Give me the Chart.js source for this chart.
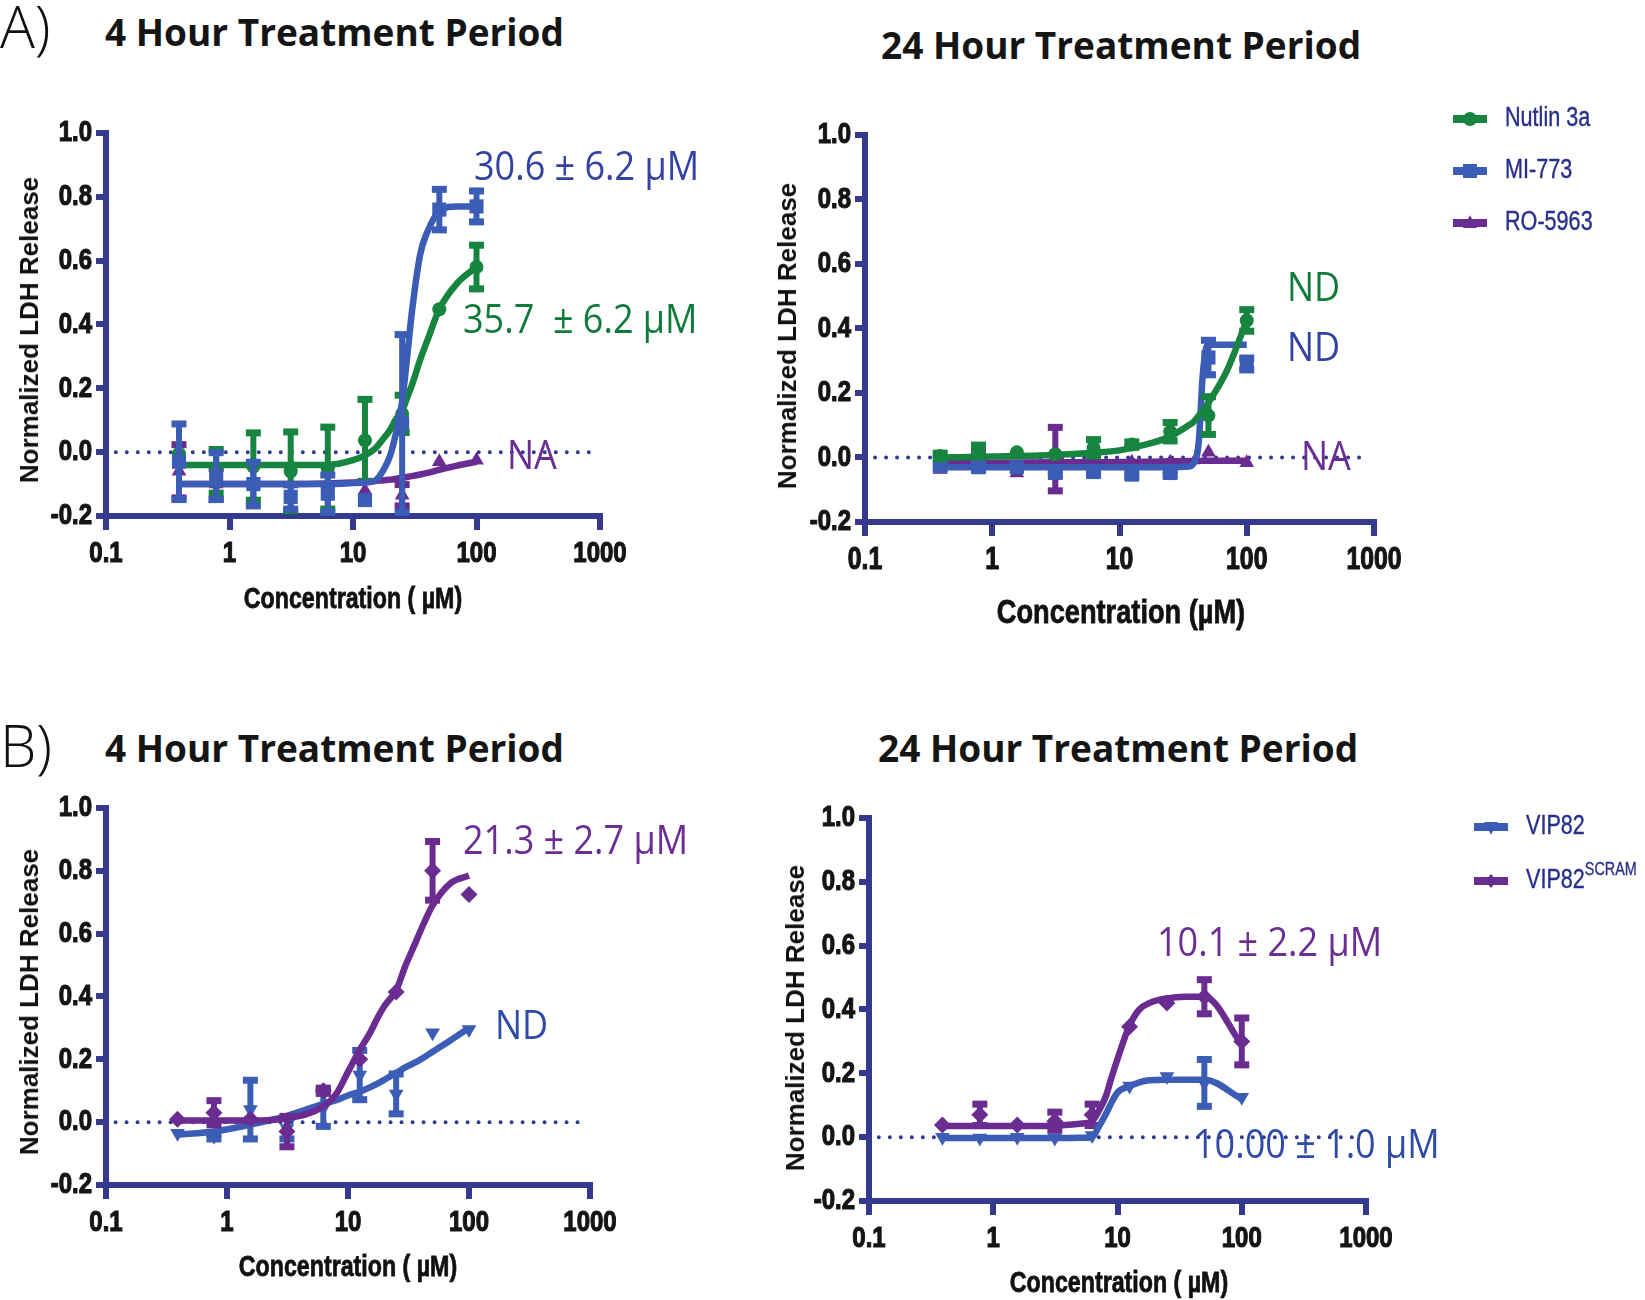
<!DOCTYPE html>
<html>
<head>
<meta charset="utf-8">
<script src="https://cdn.jsdelivr.net/npm/chart.js@4.4.1/dist/chart.umd.min.js"></script>
<style>
  body { margin: 0; background: #fff; width: 1645px; height: 1300px; position: relative; overflow: hidden; font-family: 'Open Sans', sans-serif; }
  canvas { position: absolute; }
  .lbl { position: absolute; white-space: nowrap; line-height: 1; transform: translateY(-50%); }
  .panel { font-size: 58px; font-weight: 300; color: #111; }
  .title { font-size: 37px; font-weight: 700; color: #151515; }
  .ytitle { font-family: 'Liberation Sans', Arial, sans-serif; font-weight: 700; font-size: 26px; color: #111; transform: translate(-50%, -50%) rotate(-90deg); }
  .xtitle { font-family: 'Liberation Sans', Arial, sans-serif; font-weight: 700; font-size: 29px; color: #111; -webkit-text-stroke: 0.8px #111; transform: translate(-50%, -50%) scaleX(0.8); }
  .ann { font-size: 40px; transform: translateY(-50%) scaleX(0.9); transform-origin: left center; }
</style>
</head>
<body>
<div class="lbl panel" style="left:0px;top:26px">A)</div>
<div class="lbl title" style="left:105px;top:31px">4 Hour Treatment Period</div>
<div class="lbl title" style="left:881px;top:44px">24 Hour Treatment Period</div>
<div class="lbl panel" style="left:0px;top:745px">B)</div>
<div class="lbl title" style="left:105px;top:747px">4 Hour Treatment Period</div>
<div class="lbl title" style="left:878px;top:747px">24 Hour Treatment Period</div>

<canvas id="a4"></canvas>
<canvas id="a24"></canvas>
<canvas id="b4"></canvas>
<canvas id="b24"></canvas>

<div class="lbl ytitle" style="left:29px;top:330px">Normalized LDH Release</div>
<div class="lbl ytitle" style="left:787px;top:336px">Normalized LDH Release</div>
<div class="lbl ytitle" style="left:29px;top:1002px">Normalized LDH Release</div>
<div class="lbl ytitle" style="left:795px;top:1018px">Normalized LDH Release</div>
<div class="lbl xtitle" style="left:353px;top:598px">Concentration (&nbsp;µM)</div>
<div class="lbl xtitle" style="left:1121px;top:611px;font-size:34px">Concentration (µM)</div>
<div class="lbl xtitle" style="left:348px;top:1266px">Concentration (&nbsp;µM)</div>
<div class="lbl xtitle" style="left:1119px;top:1282px">Concentration (&nbsp;µM)</div>

<div class="lbl ann" style="left:474px;top:165px;color:#3343a3">30.6 ± 6.2 µM</div>
<div class="lbl ann" style="left:463px;top:318px;color:#107a3a">35.7&nbsp; ± 6.2 µM</div>
<div class="lbl ann" style="left:507px;top:454px;color:#6b2f94">NA</div>
<div class="lbl ann" style="left:1287px;top:286px;color:#107a3a">ND</div>
<div class="lbl ann" style="left:1287px;top:346px;color:#3343a3">ND</div>
<div class="lbl ann" style="left:1301px;top:455px;color:#6b2f94">NA</div>
<div class="lbl ann" style="left:463px;top:839px;color:#6b2f94">21.3 ± 2.7 µM</div>
<div class="lbl ann" style="left:495px;top:1024px;color:#2f4aa8">ND</div>
<div class="lbl ann" style="left:1157px;top:941px;color:#6b2f94">10.1 ± 2.2 µM</div>
<div class="lbl ann" style="left:1194px;top:1143px;color:#2f4aa8">10.00 ± 1.0 µM</div>

<script>
// Colours
const NAVY = '#363a8f';
const GREEN = '#17843f';
const BLUE = '#3b5db5';
const PURPLE = '#6a2c91';
const LABEL_FONT = "'Liberation Sans', Arial, sans-serif";
const NARROW = 0.8;   // horizontal squeeze to mimic a narrow face

// Shared axes
const conc = [0.39, 0.78, 1.56, 3.13, 6.25, 12.5, 25, 50, 100];
const xTicks = [0.1, 1, 10, 100, 1000];
const yTicks = [-0.2, 0, 0.2, 0.4, 0.6, 0.8, 1.0];
const zeroLineX = [0.12, 850];
const zeroLineY = [0, 0];

// A) 4 hour
const a4Nutlin = [-0.005, -0.06, -0.045, -0.06, -0.05, 0.037, 0.12, 0.448, 0.58];
const a4NutlinErr = [0, 0.07, 0.107, 0.125, 0.13, 0.13, 0.06, 0, 0.07];
const a4Mi773 = [-0.03, -0.075, -0.1, -0.14, -0.13, -0.15, 0.09, 0.76, 0.77];
const a4Mi773Err = [0.12, 0.075, 0.07, 0.04, 0.06, 0, 0.28, 0.065, 0.05];
const a4Ro5963 = [-0.06, -0.1, -0.1, -0.1, -0.1, -0.12, -0.135, -0.03, -0.025];
const a4Ro5963Err = [0.085, 0.05, 0, 0, 0, 0, 0.035, 0, 0];
const a4CurveX = [0.39, 1, 3, 6.25, 10, 12.5, 15, 18, 20, 22, 25, 28, 30, 35, 40, 50, 70, 100];
const a4NutlinFit = [-0.04, -0.04, -0.04, -0.04, -0.025, -0.01, 0.01, 0.047, 0.07, 0.1, 0.13, 0.18, 0.21, 0.29, 0.35, 0.448, 0.53, 0.58];
const a4Mi773Fit = [-0.1, -0.1, -0.1, -0.1, -0.097, -0.095, -0.09, -0.05, -0.01, 0.05, 0.16, 0.33, 0.44, 0.62, 0.69, 0.755, 0.77, 0.77];
const a4Ro5963Fit = [-0.1, -0.1, -0.1, -0.098, -0.095, -0.093, -0.09, -0.088, -0.086, -0.084, -0.08, -0.077, -0.075, -0.07, -0.065, -0.055, -0.042, -0.03];

// A) 24 hour
const a24Nutlin = [0.005, 0.02, 0.016, 0.01, 0.03, 0.04, 0.08, 0.13, 0.425];
const a24NutlinErr = [0.01, 0.02, 0, 0, 0.027, 0.01, 0.03, 0.06, 0.035];
const a24Mi773 = [-0.027, -0.03, -0.03, -0.048, -0.045, -0.053, -0.048, 0.31, 0.29];
const a24Mi773Err = [0.01, 0.01, 0, 0.01, 0.01, 0.01, 0.01, 0.055, 0.02];
const a24Ro5963 = [-0.037, -0.01, -0.048, -0.005, -0.015, -0.015, -0.015, 0.016, -0.016];
const a24Ro5963Err = [0, 0.03, 0, 0.1, 0, 0, 0, 0, 0];
const a24CurveX = [0.39, 1, 3, 6.25, 10, 12.5, 18, 25, 35, 38, 42, 45, 48, 50, 70, 100];
const a24NutlinFit = [0.0, 0.003, 0.008, 0.015, 0.022, 0.03, 0.045, 0.065, 0.1, 0.11, 0.13, 0.145, 0.16, 0.17, 0.27, 0.425];
const a24Mi773Fit = [-0.03, -0.03, -0.03, -0.03, -0.03, -0.03, -0.03, -0.03, -0.028, -0.02, 0.05, 0.25, 0.34, 0.35, 0.35, 0.35];
const a24Ro5963Fit = [-0.016, -0.016, -0.015, -0.015, -0.014, -0.014, -0.013, -0.012, -0.011, -0.011, -0.011, -0.01, -0.01, -0.01, -0.01, -0.01];

// B) 4 hour
const b4Vip82 = [-0.035, -0.045, 0.04, -0.02, 0.045, 0.15, 0.09, 0.285, 0.295];
const b4Vip82Err = [0, 0.01, 0.095, 0.035, 0.06, 0.08, 0.065, 0, 0];
const b4Scram = [0.009, 0.03, 0.01, -0.03, 0.1, 0.2, 0.414, 0.8, 0.725];
const b4ScramErr = [0, 0.04, 0, 0.05, 0.01, 0, 0, 0.095, 0];
const b4CurveX = [0.39, 0.78, 1.56, 3.13, 6.25, 8, 10, 12.5, 15, 18, 20, 25, 30, 36, 42, 50, 70, 100];
const b4Vip82Fit = [-0.04, -0.03, -0.008, 0.02, 0.058, 0.07, 0.085, 0.097, 0.11, 0.125, 0.135, 0.157, 0.175, 0.19, 0.205, 0.224, 0.26, 0.3];
const b4ScramFit = [0.005, 0.005, 0.005, 0.012, 0.05, 0.09, 0.16, 0.23, 0.28, 0.34, 0.37, 0.42, 0.5, 0.57, 0.63, 0.69, 0.76, 0.785];

// B) 24 hour
const b24Vip82 = [0, -0.003, 0, -0.003, 0.005, 0.16, 0.19, 0.17, 0.125];
const b24Vip82Err = [0, 0, 0, 0, 0, 0, 0, 0.075, 0];
const b24Scram = [0.038, 0.07, 0.038, 0.05, 0.07, 0.346, 0.42, 0.44, 0.3];
const b24ScramErr = [0, 0.035, 0, 0.03, 0.035, 0, 0, 0.055, 0.075];
const b24CurveX = [0.39, 0.78, 1.56, 3.13, 5, 6.25, 7, 8, 9, 10, 12.5, 15, 18, 25, 35, 50, 100];
const b24Vip82Fit = [-0.003, -0.003, -0.003, -0.003, -0.002, 0.0, 0.03, 0.07, 0.11, 0.14, 0.16, 0.172, 0.178, 0.18, 0.18, 0.18, 0.12];
const b24ScramFit = [0.035, 0.035, 0.035, 0.036, 0.042, 0.05, 0.08, 0.125, 0.19, 0.245, 0.35, 0.4, 0.42, 0.435, 0.44, 0.44, 0.29];

// Legend names
const aNames = ['Nutlin 3a', 'MI-773', 'RO-5963'];
const bNames = ['VIP82', 'VIP82^SCRAM'];

// Layout constants
const Y_W = 90;
const X_H = 80;

function pts(xs, ys) {
  return xs.map((x, i) => ({ x: x, y: ys[i] }));
}

// squeezed text, anchored at (x, y); optional stroke to thicken
function narrowText(ctx, text, x, y, align, heavy) {
  ctx.save();
  ctx.translate(x, y);
  ctx.scale(NARROW, 1);
  ctx.textAlign = align;
  ctx.fillText(text, 0, 0);
  if (heavy) {
    ctx.lineWidth = heavy;
    ctx.strokeStyle = ctx.fillStyle;
    ctx.strokeText(text, 0, 0);
  }
  ctx.restore();
}

// Draw a legend marker by hand
function drawMarker(ctx, style, x, y, r, color) {
  ctx.fillStyle = color;
  ctx.beginPath();
  if (style === 'circle') {
    ctx.arc(x, y, r, 0, Math.PI * 2);
  } else if (style === 'rect') {
    ctx.rect(x - r, y - r, 2 * r, 2 * r);
  } else if (style === 'triangle') {
    ctx.moveTo(x, y - r * 1.1);
    ctx.lineTo(x + r, y + r * 0.7);
    ctx.lineTo(x - r, y + r * 0.7);
  } else if (style === 'down') {
    ctx.moveTo(x, y + r * 1.1);
    ctx.lineTo(x + r, y - r * 0.7);
    ctx.lineTo(x - r, y - r * 0.7);
  } else if (style === 'diamond') {
    ctx.moveTo(x, y - r);
    ctx.lineTo(x + r * 0.8, y);
    ctx.lineTo(x, y + r);
    ctx.lineTo(x - r * 0.8, y);
  }
  ctx.closePath();
  ctx.fill();
}

// Error bars drawn after each point dataset
const errorBars = {
  id: 'errorBars',
  afterDatasetDraw(chart, args) {
    const ds = chart.data.datasets[args.index];
    if (!ds.errors) return;
    const ctx = chart.ctx;
    const ys = chart.scales.y;
    ctx.save();
    ctx.strokeStyle = ds.borderColor;
    ctx.fillStyle = ds.borderColor;
    ctx.lineWidth = 6;
    args.meta.data.forEach((el, i) => {
      const e = ds.errors[i];
      if (!e) return;
      const v = ds.data[i].y;
      const top = ys.getPixelForValue(v + e);
      const bot = ys.getPixelForValue(v - e);
      ctx.beginPath();
      ctx.moveTo(el.x, top);
      ctx.lineTo(el.x, bot);
      ctx.stroke();
      ctx.fillRect(el.x - 7.5, top - 3, 15, 7);
      ctx.fillRect(el.x - 7.5, bot - 4, 15, 7);
    });
    ctx.restore();
  }
};

// Tick labels in a squeezed bold face, placed from the scales
const tickLabels = {
  id: 'tickLabels',
  afterDraw(chart) {
    const ctx = chart.ctx;
    const area = chart.chartArea;
    const xs = chart.scales.x;
    const ys = chart.scales.y;
    const xSize = chart.options.xTickSize || 30;
    ctx.save();
    ctx.fillStyle = '#151515';
    ctx.textBaseline = 'middle';
    ctx.font = 'bold ' + xSize + 'px ' + LABEL_FONT;
    xTicks.forEach(v => narrowText(ctx, String(v), xs.getPixelForValue(v), area.bottom + 38, 'center', 1.2));
    ctx.font = 'bold 30px ' + LABEL_FONT;
    yTicks.forEach(v => narrowText(ctx, v.toFixed(1), area.left - 14, ys.getPixelForValue(v), 'right', 1.2));
    ctx.restore();
  }
};

function makeLegend(items, box, pos) {
  return {
    id: 'seriesLegend',
    afterDraw(chart) {
      const ctx = chart.ctx;
      const ox = pos.x - box.left;
      items.forEach((it, i) => {
        const cy = pos.y + i * pos.dy - box.top;
        ctx.save();
        ctx.fillStyle = it.color;
        ctx.fillRect(ox, cy - 4, 34, 8);
        drawMarker(ctx, it.marker, ox + 17, cy, 7, it.color);
        const parts = it.name.split('^');
        ctx.fillStyle = '#27308a';
        ctx.textBaseline = 'middle';
        ctx.font = '27px ' + LABEL_FONT;
        narrowText(ctx, parts[0], ox + 52, cy, 'left', 0.4);
        if (parts[1]) {
          const w = ctx.measureText(parts[0]).width * NARROW;
          ctx.font = '18px ' + LABEL_FONT;
          narrowText(ctx, parts[1], ox + 52 + w, cy - 11, 'left', 0.3);
        }
        ctx.restore();
      });
    }
  };
}

function makePanel(id, geom, series, curveX, legendPos) {
  const padTop = geom.padTop || 20;
  const box = {
    left: geom.axisX - Y_W,
    top: geom.yTop - padTop,
    width: geom.right - (geom.axisX - Y_W),
    height: geom.yBot - geom.yTop + padTop + X_H
  };
  const canvas = document.getElementById(id);
  canvas.width = box.width;
  canvas.height = box.height;
  canvas.style.left = box.left + 'px';
  canvas.style.top = box.top + 'px';
  canvas.style.width = box.width + 'px';
  canvas.style.height = box.height + 'px';

  const datasets = [];
  series.forEach(s => {
    datasets.push({
      data: pts(conc, s.values),
      errors: s.errors,
      showLine: false,
      pointStyle: s.pointStyle,
      rotation: s.rotation || 0,
      pointRadius: s.radius,
      backgroundColor: s.color,
      borderColor: s.color,
      borderWidth: 0
    });
    datasets.push({
      data: pts(curveX, s.fit),
      showLine: true,
      pointRadius: 0,
      borderColor: s.color,
      borderWidth: 6.5,
      cubicInterpolationMode: 'monotone'
    });
  });
  datasets.push({
    data: pts(zeroLineX, zeroLineY),
    showLine: true,
    pointRadius: 0,
    borderColor: '#2e3b93',
    borderWidth: 4,
    borderDash: [0, 11],
    borderCapStyle: 'round'
  });

  const plugins = [errorBars, tickLabels];
  if (legendPos) {
    plugins.push(makeLegend(series.map(s => ({ name: s.name, color: s.color, marker: s.legendMarker })), box, legendPos));
  }

  return new Chart(canvas, {
    type: 'scatter',
    data: { datasets: datasets },
    options: {
      responsive: false,
      animation: false,
      devicePixelRatio: 1,
      xTickSize: geom.xTickSize || 30,
      layout: { padding: { left: 0, top: padTop, right: geom.right - geom.xRight, bottom: 0 } },
      plugins: { legend: { display: false }, tooltip: { enabled: false } },
      scales: {
        x: {
          type: 'logarithmic',
          min: 0.1,
          max: 1000,
          afterBuildTicks: s => { s.ticks = xTicks.map(v => ({ value: v })); },
          afterFit: s => { s.height = X_H; },
          ticks: { display: false, autoSkip: false },
          grid: { drawOnChartArea: false, drawTicks: true, tickLength: 14, color: NAVY, lineWidth: 6 },
          border: { color: NAVY, width: 6 }
        },
        y: {
          min: -0.2,
          max: 1.0,
          afterBuildTicks: s => { s.ticks = yTicks.map(v => ({ value: v })); },
          afterFit: s => { s.width = Y_W; },
          ticks: { display: false },
          grid: { drawOnChartArea: false, drawTicks: true, tickLength: 10, color: NAVY, lineWidth: 6 },
          border: { color: NAVY, width: 6 }
        }
      }
    },
    plugins: plugins
  });
}

makePanel('a4', { axisX: 106, yTop: 133, yBot: 516, xRight: 600, right: 650 }, [
  { name: aNames[1], values: a4Mi773, errors: a4Mi773Err, fit: a4Mi773Fit, color: BLUE, pointStyle: 'rect', radius: 10 },
  { name: aNames[0], values: a4Nutlin, errors: a4NutlinErr, fit: a4NutlinFit, color: GREEN, pointStyle: 'circle', radius: 7 },
  { name: aNames[2], values: a4Ro5963, errors: a4Ro5963Err, fit: a4Ro5963Fit, color: PURPLE, pointStyle: 'triangle', radius: 8.5 }
], a4CurveX, null);

makePanel('a24', { axisX: 865, yTop: 135, yBot: 522, xRight: 1374, right: 1645, xTickSize: 31, padTop: 60 }, [
  { name: aNames[0], values: a24Nutlin, errors: a24NutlinErr, fit: a24NutlinFit, color: GREEN, pointStyle: 'circle', radius: 7, legendMarker: 'circle' },
  { name: aNames[1], values: a24Mi773, errors: a24Mi773Err, fit: a24Mi773Fit, color: BLUE, pointStyle: 'rect', radius: 10, legendMarker: 'rect' },
  { name: aNames[2], values: a24Ro5963, errors: a24Ro5963Err, fit: a24Ro5963Fit, color: PURPLE, pointStyle: 'triangle', radius: 8.5, legendMarker: 'triangle' }
], a24CurveX, { x: 1453, y: 119, dy: 52 });

makePanel('b4', { axisX: 106, yTop: 808, yBot: 1185, xRight: 590, right: 640 }, [
  { name: bNames[1], values: b4Scram, errors: b4ScramErr, fit: b4ScramFit, color: PURPLE, pointStyle: 'rectRot', radius: 8.5 },
  { name: bNames[0], values: b4Vip82, errors: b4Vip82Err, fit: b4Vip82Fit, color: BLUE, pointStyle: 'triangle', rotation: 180, radius: 8.5 }
], b4CurveX, null);

makePanel('b24', { axisX: 869, yTop: 818, yBot: 1201, xRight: 1366, right: 1645, padTop: 40 }, [
  { name: bNames[0], values: b24Vip82, errors: b24Vip82Err, fit: b24Vip82Fit, color: BLUE, pointStyle: 'triangle', rotation: 180, radius: 8.5, legendMarker: 'down' },
  { name: bNames[1], values: b24Scram, errors: b24ScramErr, fit: b24ScramFit, color: PURPLE, pointStyle: 'rectRot', radius: 8.5, legendMarker: 'diamond' }
], b24CurveX, { x: 1474, y: 827, dy: 54 });
</script>
</body>
</html>
